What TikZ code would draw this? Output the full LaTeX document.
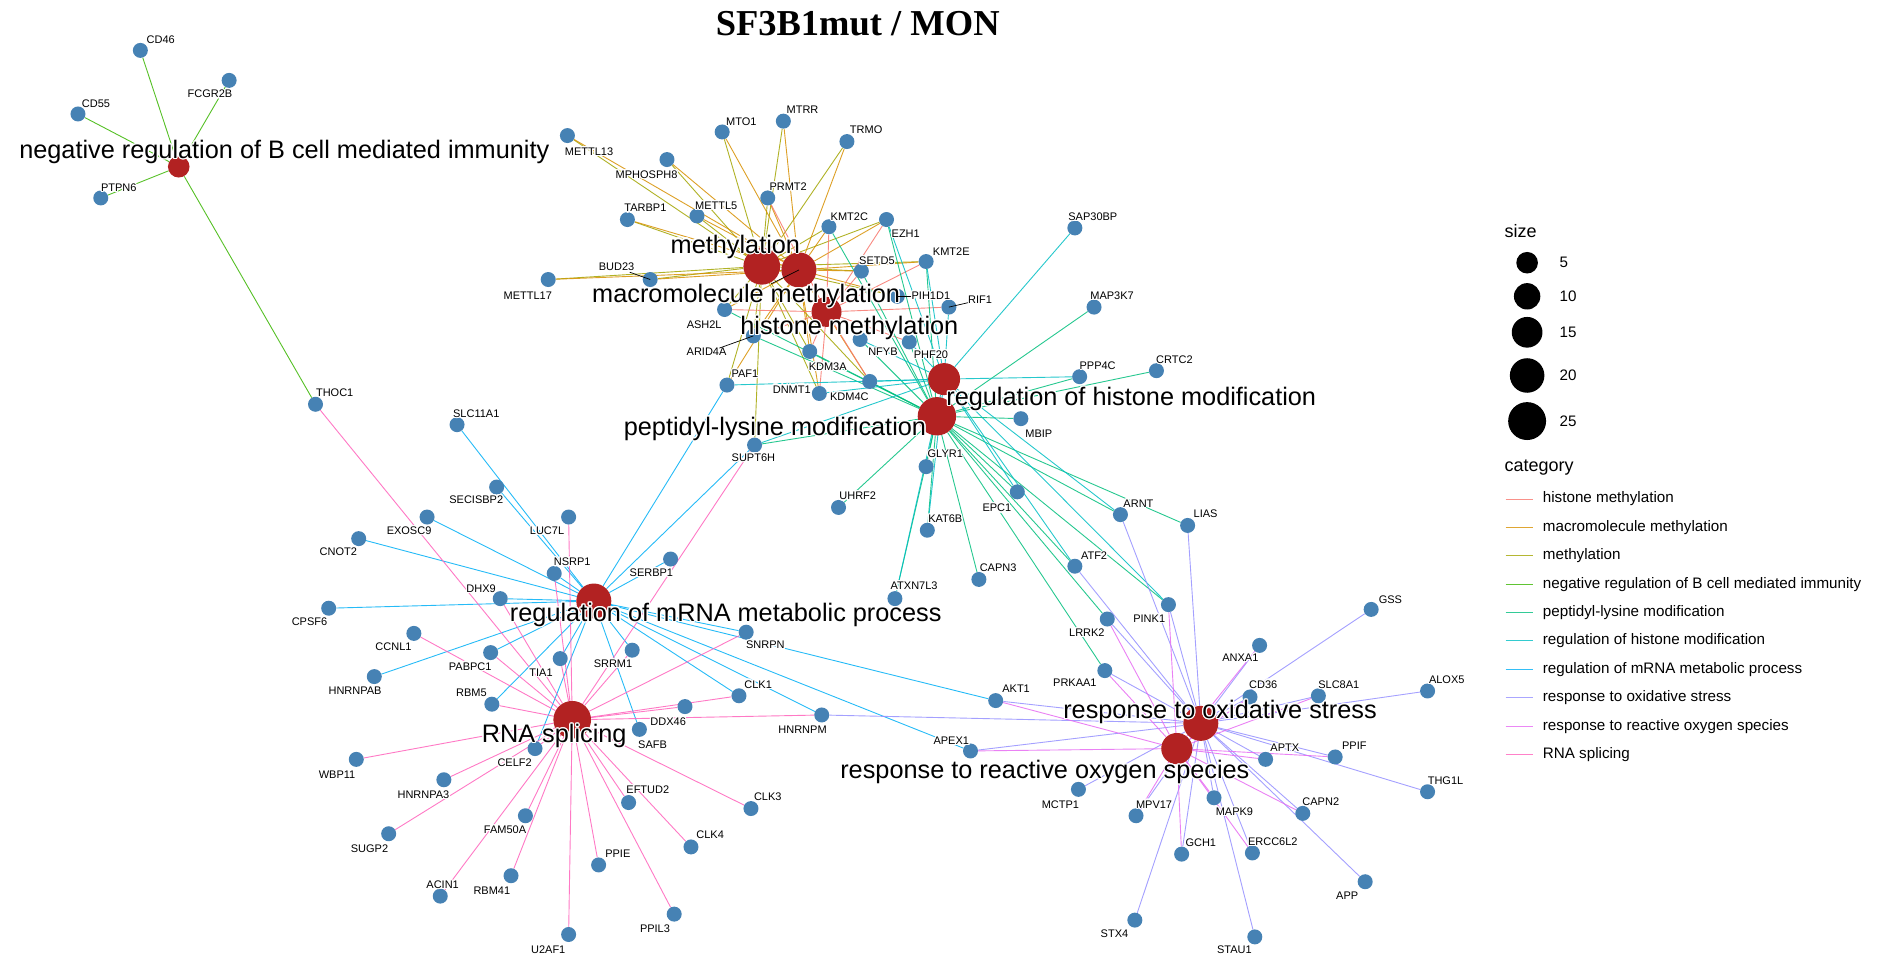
\documentclass[tikz,border=0pt]{standalone}
\usepackage{fontspec}
\setmainfont{Liberation Sans}
\newfontfamily\titlefont{Liberation Serif}
\usepackage[copies]{contour}
\contourlength{1.2pt}
\usetikzlibrary{backgrounds}

\definecolor{colhistmeth}{HTML}{F8766D}
\definecolor{colmacro}{HTML}{D89000}
\definecolor{colmeth}{HTML}{A3A500}
\definecolor{colnegB}{HTML}{39B600}
\definecolor{colpeptidyl}{HTML}{00BF7D}
\definecolor{colreghist}{HTML}{00BFC4}
\definecolor{colmrna}{HTML}{00B0F6}
\definecolor{coloxstress}{HTML}{9590FF}
\definecolor{colros}{HTML}{E76BF3}
\definecolor{colrnasplice}{HTML}{FF62BC}
\definecolor{genecol}{HTML}{4682B4}
\definecolor{termcol}{HTML}{B22222}

\newcommand{\halo}[1]{\contour{white}{#1}}

\tikzset{
  gene/.style={circle, fill=genecol, minimum size=15pt, inner sep=0pt},
  term/.style={circle, fill=termcol, inner sep=0pt},
  glab/.style={font=\fontsize{11}{12}\selectfont, inner sep=0pt},
  tlab/.style={font=\fontsize{25.3}{28}\selectfont, inner sep=0pt},
  edge/.style={line width=0.9pt, opacity=0.85},
  leader/.style={line width=0.7pt, black},
  legtxt/.style={font=\fontsize{15.2}{17}\selectfont, inner sep=0pt, anchor=west},
  legtitle/.style={font=\fontsize{18}{20}\selectfont, inner sep=0pt, anchor=west},
}

% gene / x / y / label x / label y
\def\genes{CD46/117/42/134/34, FCGR2B/191/67/175/79, CD55/65/95/80/87,
  PTPN6/84/165/99/157, THOC1/263/337/279/328,
  METTL13/473/113/491/127, MTO1/602/110/618/102, MTRR/653/101/669/92,
  TRMO/706/118/722/109, MPHOSPH8/556/133/539/146, PRMT2/640/165/657/156,
  TARBP1/523/183/538/174, METTL5/581/180/597/172, KMT2C/691/189/708/181,
  EZH1/739/183/755/195, SETD5/718/226/731/218, KMT2E/772/218/793/210,
  BUD23/542/233/514/223, METTL17/457/233/440/247, PIH1D1/748/247/776/247,
  RIF1/791/256/817/250, ASH2L/604/258/587/271, ARID4A/628/280/589/294,
  NFYB/717/283/736/294, PHF20/758/285/776/296, KDM3A/675/293/690/306,
  PAF1/606/321/621/312, DNMT1/683/328/660/325, KDM4C/725/318/708/331,
  SUPT6H/629/371/628/382,
  SAP30BP/896/190/911/181, MAP3K7/912/256/927/247, PPP4C/900/314/915/305,
  CRTC2/964/309/979/300, MBIP/851/349/866/362, GLYR1/772/389/788/379,
  UHRF2/699/423/715/414, EPC1/848/410/831/424, KAT6B/773/442/788/433,
  ARNT/934/429/949/420, LIAS/990/438/1005/429, ATF2/896/472/912/464,
  CAPN3/816/483/832/474, ATXN7L3/746/499/762/489, PINK1/974/504/958/516,
  LRRK2/923/516/906/528, PRKAA1/921/559/896/570,
  SLC11A1/381/354/397/345, SECISBP2/414/406/397/417, EXOSC9/356/431/341/443,
  LUC7L/474/431/456/443, CNOT2/299/449/282/460, NSRP1/462/478/477/469,
  SERBP1/559/466/543/478, DHX9/417/499/401/491, CPSF6/274/507/258/519,
  CCNL1/345/528/328/540, PABPC1/409/544/392/556, TIA1/467/549/451/561,
  SRRM1/527/542/511/554, HNRNPAB/312/564/296/576, SNRPN/622/527/638/538,
  CLK1/616/580/632/571, DDX46/571/589/557/602, HNRNPM/685/596/669/609,
  AKT1/830/584/847/575, APEX1/809/626/793/618,
  RBM5/410/587/393/578, SAFB/533/608/544/621, CELF2/446/624/429/636,
  WBP11/297/633/281/646, HNRNPA3/370/650/353/663, EFTUD2/524/669/540/659,
  CLK3/626/674/640/665, FAM50A/438/680/421/692, SUGP2/324/695/308/708,
  CLK4/576/706/592/696, PPIE/499/721/515/712, RBM41/426/730/410/743,
  ACIN1/367/747/369/738, PPIL3/562/762/546/775, U2AF1/474/779/457/792,
  GSS/1143/508/1159/500, ANXA1/1050/538/1034/549, CD36/1042/581/1053/571,
  SLC8A1/1099/580/1116/571, ALOX5/1190/576/1206/567, APTX/1055/633/1071/624,
  PPIF/1113/631/1129/622, THG1L/1190/660/1205/651, MCTP1/899/658/884/671,
  MPV17/947/680/962/671, MAPK9/1012/665/1029/677, CAPN2/1086/678/1101/669,
  GCH1/985/712/1001/703, ERCC6L2/1044/711/1061/702, APP/1138/735/1123/747,
  STX4/946/767/929/779, STAU1/1046/781/1029/792}

\begin{document}
\begin{tikzpicture}[x=1.2pt, y=-1.2pt]
  \useasboundingbox (0,0) rectangle (1568,799);

  % title
  \node[font=\titlefont\bfseries\fontsize{36.5}{40}\selectfont, inner sep=0pt] (title) at (715,20) {SF3B1mut / MON};

  % enriched terms
  \node[term, minimum size=21.6pt] (negB) at (149,139) {};
  \node[term, minimum size=36.7pt] (meth) at (635,222) {};
  \node[term, minimum size=35pt] (macro) at (666,225) {};
  \node[term, minimum size=30pt] (histmeth) at (689,260) {};
  \node[term, minimum size=32pt] (reghist) at (787,316) {};
  \node[term, minimum size=38.4pt] (peptidyl) at (781,347) {};
  \node[term, minimum size=35pt] (mrna) at (495,501) {};
  \node[term, minimum size=37.7pt] (rnasplice) at (477,600) {};
  \node[term, minimum size=35pt] (oxstress) at (1001,603) {};
  \node[term, minimum size=31.2pt] (ros) at (981,624) {};

  % genes
  \foreach \n/\x/\y/\lx/\ly in \genes
    \node[gene] (\n) at (\x,\y) {};
  \foreach \n/\x/\y/\lx/\ly in \genes
    \node[glab] (l\n) at (\lx,\ly) {\halo{\n}};

  % edges
  \begin{scope}[on background layer]
    \fill[white] (0,0) rectangle (1568,799);
    \foreach \g in {CD46,FCGR2B,CD55,PTPN6,THOC1}
      \draw[edge, draw=colnegB] (negB) -- (\g);
    \foreach \g in {METTL13,MTO1,MTRR,TRMO,MPHOSPH8,PRMT2,TARBP1,METTL5,KMT2C,EZH1,SETD5,KMT2E,BUD23,METTL17,PIH1D1,ASH2L,ARID4A,DNMT1,KDM3A,KDM4C,PAF1,SUPT6H}
      \draw[edge, draw=colmeth] (meth) -- (\g);
    \foreach \g in {METTL13,MTO1,MTRR,TRMO,MPHOSPH8,PRMT2,TARBP1,METTL5,KMT2C,EZH1,SETD5,KMT2E,BUD23,PIH1D1,ASH2L,ARID4A,DNMT1,KDM3A,KDM4C,PAF1,METTL17}
      \draw[edge, draw=colmacro] (macro) -- (\g);
    \foreach \g in {PRMT2,KMT2C,EZH1,SETD5,KMT2E,RIF1,ASH2L,ARID4A,KDM3A,KDM4C,DNMT1,PHF20}
      \draw[edge, draw=colhistmeth] (histmeth) -- (\g);
    \foreach \g in {KMT2C,EZH1,SETD5,KMT2E,ASH2L,KDM3A,KDM4C,PHF20,NFYB,ARID4A,SUPT6H,MAP3K7,CRTC2,MBIP,GLYR1,UHRF2,EPC1,KAT6B,ATF2,CAPN3,ATXN7L3,ARNT,LIAS,PINK1,LRRK2,PRKAA1,PPP4C}
      \draw[edge, draw=colpeptidyl] (peptidyl) -- (\g);
    \foreach \g in {SAP30BP,PPP4C,EPC1,KAT6B,ATXN7L3,PAF1,SUPT6H,EZH1,KMT2E,RIF1,PHF20,NFYB,KDM4C,ATF2,PINK1,ARNT,DNMT1}
      \draw[edge, draw=colreghist] (reghist) -- (\g);
    \foreach \g in {SLC11A1,SECISBP2,EXOSC9,CNOT2,CPSF6,NSRP1,DHX9,SERBP1,PAF1,SUPT6H,HNRNPAB,PABPC1,TIA1,RBM5,CELF2,SRRM1,SAFB,SNRPN,CLK1,HNRNPM,AKT1,APEX1}
      \draw[edge, draw=colmrna] (mrna) -- (\g);
    \foreach \g in {THOC1,LUC7L,NSRP1,DHX9,CCNL1,PABPC1,TIA1,SRRM1,SUPT6H,SNRPN,CLK1,DDX46,HNRNPM,RBM5,WBP11,HNRNPA3,CELF2,SUGP2,FAM50A,RBM41,ACIN1,U2AF1,PPIE,PPIL3,EFTUD2,CLK4,CLK3}
      \draw[edge, draw=colrnasplice] (rnasplice) -- (\g);
    \foreach \g in {ARNT,LIAS,ATF2,PINK1,LRRK2,PRKAA1,AKT1,APEX1,HNRNPM,GSS,ANXA1,CD36,SLC8A1,ALOX5,APTX,PPIF,THG1L,CAPN2,APP,MCTP1,MPV17,MAPK9,GCH1,ERCC6L2,STX4,STAU1}
      \draw[edge, draw=coloxstress] (oxstress) -- (\g);
    \foreach \g in {PINK1,LRRK2,PRKAA1,AKT1,APEX1,ANXA1,CD36,SLC8A1,APTX,PPIF,CAPN2,MPV17,MAPK9,GCH1,ERCC6L2}
      \draw[edge, draw=colros] (ros) -- (\g);
  \end{scope}

  % term labels
  \node[tlab] (lnegB) at (237,127) {\halo{negative regulation of B cell mediated immunity}};
  \node[tlab] (lmeth) at (613,206) {\halo{methylation}};
  \node[tlab] (lmacro) at (622,247) {\halo{macromolecule methylation}};
  \node[tlab] (lhistmeth) at (708,274) {\halo{histone methylation}};
  \node[tlab] (lreghist) at (943,333) {\halo{regulation of histone modification}};
  \node[tlab] (lpeptidyl) at (646,358) {\halo{peptidyl-lysine modification}};
  \node[tlab] (lmrna) at (605,513) {\halo{regulation of mRNA metabolic process}};
  \node[tlab] (lrnasplice) at (462,614) {\halo{RNA splicing}};
  \node[tlab] (loxstress) at (1017,594) {\halo{response to oxidative stress}};
  \node[tlab] (lros) at (871,644) {\halo{response to reactive oxygen species}};

  % label leaders
  \draw[leader] (lmacro) -- (macro.center);
  \draw[leader] (lBUD23) -- (BUD23.center);
  \draw[leader] (lARID4A) -- (ARID4A.center);
  \draw[leader] (lPIH1D1) -- (PIH1D1.center);
  \draw[leader] (lRIF1) -- (RIF1.center);

  % legend: size
  \node[legtitle] (sizetitle) at (1254,193) {size};
  \foreach \s/\r/\y in {5/9/219, 10/11/247, 15/12.8/277, 20/14.4/313, 25/15.8/351} {
    \node[circle, fill=black, inner sep=0pt, minimum size=\r*2.4pt] (sz\s) at (1273,\y) {};
    \node[legtxt] (lsz\s) at (1300,\y) {\s};
  }

  % legend: category
  \node[legtitle] (cattitle) at (1254,390) {category};
  \foreach \c/\t [count=\i] in {histmeth/histone methylation, macro/macromolecule methylation,
      meth/methylation, negB/negative regulation of B cell mediated immunity,
      peptidyl/peptidyl-lysine modification, reghist/regulation of histone modification,
      mrna/regulation of mRNA metabolic process, oxstress/response to oxidative stress,
      ros/response to reactive oxygen species, rnasplice/RNA splicing} {
    \draw[line width=1pt, draw=col\c, opacity=0.8] (1255,392.3+23.67*\i) -- ++(23,0);
    \node[legtxt] (leg\c) at (1286,392.3+23.67*\i) {\t};
  }
\end{tikzpicture}
\end{document}
